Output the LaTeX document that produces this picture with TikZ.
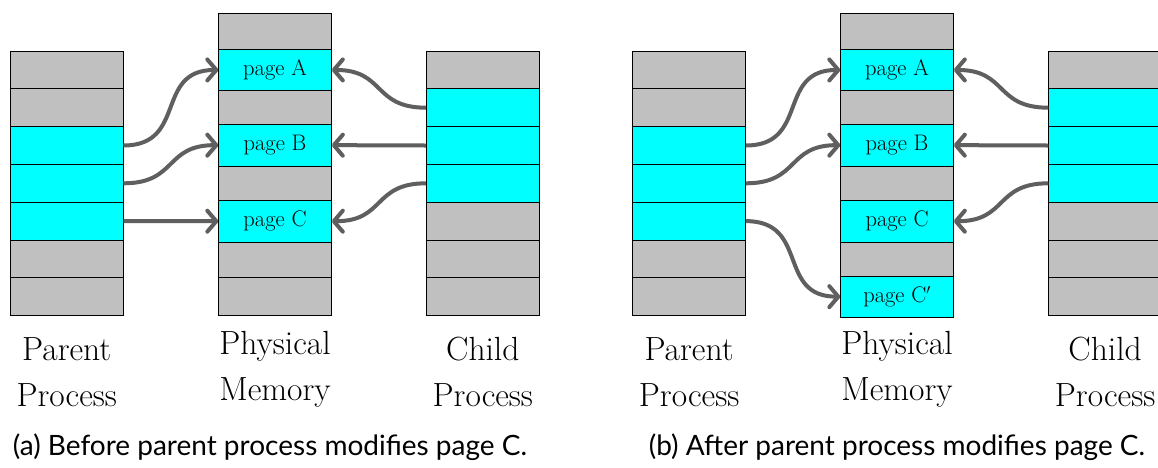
\documentclass[tikz,border=0pt]{standalone}
\usepackage{fontspec}
\newfontfamily\capfont{Lato}
\usetikzlibrary{arrows.meta}

\definecolor{cellgray}{HTML}{C0C0C0}
\definecolor{cellcyan}{HTML}{00FFFF}
\definecolor{linkgray}{HTML}{5F5F5F}

\tikzset{
  cell/.style={draw=black, line width=0.9pt, minimum width=113.5pt,
    inner sep=0pt, outer sep=0pt, anchor=north west,
    font=\fontsize{22.5}{24}\selectfont},
  link/.style={draw=linkgray, line width=4pt,
    -{Straight Barb[length=9pt,width=21pt,round]}},
  scurve/.style={looseness=1.35},
  heading/.style={align=center, anchor=south, inner sep=0pt,
    font=\fontsize{33.5}{46}\selectfont},
  caption/.style={anchor=base, inner sep=0pt,
    font=\capfont\fontsize{28}{32}\selectfont},
}

% seven page-table rows; rows #3..#3+2 are mapped (cyan)
\newcommand\procstack[3]{%
  \foreach \i in {1,...,7}{%
    \ifnum\i<#3 \def\cellcol{cellgray}%
    \else\ifnum\i>\numexpr#3+2\relax \def\cellcol{cellgray}%
    \else \def\cellcol{cellcyan}\fi\fi
    \node[cell, fill=\cellcol, minimum height=37.8pt] (#1\i)
      at (#2,{51+37.8*(\i-1)}) {};
  }}

% one frame of physical memory: name, left x, top y, bottom y, colour, text
\newcommand\memcell[6]{%
  \node[cell, fill=#5, minimum height={(#4-#3)*1pt}] (#1) at (#2,#3) {#6};}

\begin{document}
\begin{tikzpicture}[x=1pt,y=-1pt]
\fill[white] (0,0) rectangle (1158,467);
\useasboundingbox (0,0) rectangle (1158,467);

% ---------- (a) before the write ----------
\procstack{pa}{10}{3}
\procstack{ca}{426}{2}
\memcell{ma1}{218.3}{13.3}{49.2}{cellgray}{}
\memcell{maA}{218.3}{49.2}{90.7}{cellcyan}{page A}
\memcell{ma2}{218.3}{90.7}{124.3}{cellgray}{}
\memcell{maB}{218.3}{124.3}{166}{cellcyan}{page B}
\memcell{ma3}{218.3}{166}{200.3}{cellgray}{}
\memcell{maC}{218.3}{200.3}{242.1}{cellcyan}{page C}
\memcell{ma4}{218.3}{242.1}{277.7}{cellgray}{}
\memcell{ma5}{218.3}{277.7}{315.7}{cellgray}{}

\draw[link] (pa3.east) to[out=0,in=180,scurve] (maA.west);
\draw[link] (pa4.east) to[out=0,in=180,scurve] (maB.west);
\draw[link] (pa5.east) -- (maC.west);
\draw[link] (ca2.west) to[out=180,in=0,scurve] (maA.east);
\draw[link] (ca3.west) -- (maB.east);
\draw[link] (ca4.west) to[out=180,in=0,scurve] (maC.east);

\node[heading] (hpa) at (66.8,407) {Parent\\Process};
\node[heading] (hma) at (275,407) {Physical\\Memory};
\node[heading] (hca) at (482.8,407) {Child\\Process};
\node[caption] (capa) at (270,455) {(a) Before parent process modifies page C.};

% ---------- (b) after the write ----------
\procstack{pb}{632.3}{3}
\procstack{cb}{1048.3}{2}
\memcell{mb1}{840.3}{13.3}{49.2}{cellgray}{}
\memcell{mbA}{840.3}{49.2}{90.7}{cellcyan}{page A}
\memcell{mb2}{840.3}{90.7}{124.3}{cellgray}{}
\memcell{mbB}{840.3}{124.3}{166}{cellcyan}{page B}
\memcell{mb3}{840.3}{166}{200.3}{cellgray}{}
\memcell{mbC}{840.3}{200.3}{242.1}{cellcyan}{page C}
\memcell{mb4}{840.3}{242.1}{276}{cellgray}{}
\memcell{mbD}{840.3}{276}{317.3}{cellcyan}{page C$'$}

\draw[link] (pb3.east) to[out=0,in=180,scurve] (mbA.west);
\draw[link] (pb4.east) to[out=0,in=180,scurve] (mbB.west);
\draw[link] (pb5.east) to[out=0,in=180,scurve] (mbD.west);
\draw[link] (cb2.west) to[out=180,in=0,scurve] (mbA.east);
\draw[link] (cb3.west) -- (mbB.east);
\draw[link] (cb4.west) to[out=180,in=0,scurve] (mbC.east);

\node[heading] (hpb) at (689.1,407) {Parent\\Process};
\node[heading] (hmb) at (897,407) {Physical\\Memory};
\node[heading] (hcb) at (1105.1,407) {Child\\Process};
\node[caption] (capb) at (897,455) {(b) After parent process modifies page C.};
\end{tikzpicture}
\end{document}
